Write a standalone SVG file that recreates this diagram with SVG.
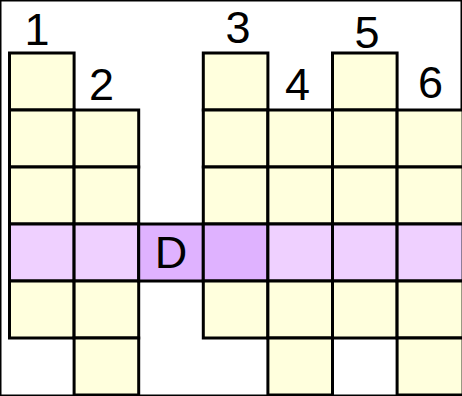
<svg xmlns="http://www.w3.org/2000/svg" width="462" height="396" viewBox="0 0 462 396">
<style>
rect{stroke:#000;stroke-width:3}
.y{fill:#FFFFDD}
.p{fill:#EFD0FF}
.q{fill:#DFB2FF}
text{font-family:"Liberation Sans",Arial,sans-serif;font-size:45px;fill:#000;text-anchor:middle}
</style>
<rect x="0" y="0" width="462" height="396" fill="#fff" stroke="none"/>
<g id="col1">
<rect class="y" x="9.5" y="53" width="64.6" height="57"/>
<rect class="y" x="9.5" y="110" width="64.6" height="57"/>
<rect class="y" x="9.5" y="167" width="64.6" height="57"/>
<rect class="p" x="9.5" y="224" width="64.6" height="57"/>
<rect class="y" x="9.5" y="281" width="64.6" height="57"/>
<text x="37" y="45">1</text>
</g>
<g id="col2">
<rect class="y" x="74.1" y="110" width="64.6" height="57"/>
<rect class="y" x="74.1" y="167" width="64.6" height="57"/>
<rect class="p" x="74.1" y="224" width="64.6" height="57"/>
<rect class="y" x="74.1" y="281" width="64.6" height="57"/>
<rect class="y" x="74.1" y="338" width="64.6" height="57"/>
<text x="101.5" y="100">2</text>
</g>
<g id="colD">
<rect class="q" x="138.7" y="224" width="64.6" height="57"/>
<text x="171" y="268">D</text>
</g>
<g id="col3">
<rect class="y" x="203.3" y="53" width="64.6" height="57"/>
<rect class="y" x="203.3" y="110" width="64.6" height="57"/>
<rect class="y" x="203.3" y="167" width="64.6" height="57"/>
<rect class="q" x="203.3" y="224" width="64.6" height="57"/>
<rect class="y" x="203.3" y="281" width="64.6" height="57"/>
<text x="238" y="43">3</text>
</g>
<g id="col4">
<rect class="y" x="267.9" y="110" width="64.6" height="57"/>
<rect class="y" x="267.9" y="167" width="64.6" height="57"/>
<rect class="p" x="267.9" y="224" width="64.6" height="57"/>
<rect class="y" x="267.9" y="281" width="64.6" height="57"/>
<rect class="y" x="267.9" y="338" width="64.6" height="57"/>
<text x="297.5" y="100">4</text>
</g>
<g id="col5">
<rect class="y" x="332.5" y="53" width="64.6" height="57"/>
<rect class="y" x="332.5" y="110" width="64.6" height="57"/>
<rect class="y" x="332.5" y="167" width="64.6" height="57"/>
<rect class="p" x="332.5" y="224" width="64.6" height="57"/>
<rect class="y" x="332.5" y="281" width="64.6" height="57"/>
<text x="367" y="48">5</text>
</g>
<g id="col6">
<rect class="y" x="397.1" y="110" width="66" height="57"/>
<rect class="y" x="397.1" y="167" width="66" height="57"/>
<rect class="p" x="397.1" y="224" width="66" height="57"/>
<rect class="y" x="397.1" y="281" width="66" height="57"/>
<rect class="y" x="397.1" y="338" width="66" height="57"/>
<text x="430.5" y="98">6</text>
</g>
<g id="connectors"/>
</svg>
